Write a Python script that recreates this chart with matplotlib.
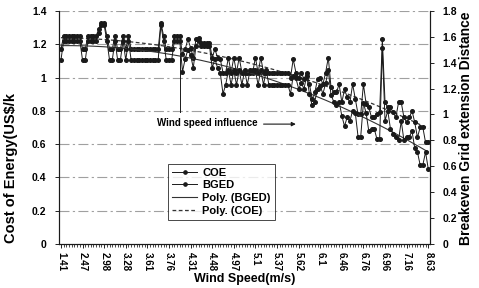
import numpy as np
import matplotlib
matplotlib.use("Agg")
import matplotlib.pyplot as plt

plt.rcParams['font.family'] = ['Liberation Sans', 'DejaVu Sans']
plt.rcParams['font.weight'] = 'bold'

# wind speed labels shown on the category axis (one every 8 points)
speed_labels = ['1.41', '2.47', '2.98', '3.28', '3.61', '3.76', '4.31', '4.48', '4.97',
                '5.1', '5.37', '5.62', '6.1', '6.46', '6.76', '6.96', '7.16', '8.63']
label_step = 8

# cost of energy (left axis)
coe = [1.17,
       1.25, 1.25, 1.25, 1.25, 1.25, 1.25, 1.25,
       1.17, 1.17,
       1.25, 1.25, 1.25, 1.25,
       1.29, 1.33, 1.33, 1.25,
       1.17, 1.17, 1.25, 1.17, 1.17, 1.25, 1.17, 1.25,
       1.17, 1.17, 1.17, 1.17, 1.17, 1.17, 1.17, 1.17, 1.17, 1.17, 1.17,
       1.33, 1.25, 1.17, 1.17, 1.17,
       1.25, 1.25, 1.25,
       1.14, 1.17, 1.23, 1.18, 1.12, 1.23, 1.24,
       1.21, 1.21, 1.21, 1.21,
       1.12, 1.17, 1.12, 1.11, 1.03, 1.03, 1.12, 1.03, 1.12, 1.03, 1.12,
       1.03, 1.03, 1.03, 1.03, 1.03, 1.12, 1.03, 1.12, 1.03, 1.03,
       1.03, 1.03, 1.03, 1.03, 1.03, 1.03, 1.03, 1.03,
       1.00, 1.11, 1.03, 1.00, 1.03, 0.99, 1.03, 0.96, 0.87, 0.91,
       0.99, 1.00, 0.96, 1.03, 1.12,
       0.94, 0.91, 0.91, 0.96, 0.85, 0.93, 0.88, 0.85, 0.96, 0.87,
       0.78, 0.78, 0.96, 0.84, 0.82, 0.76, 0.76, 0.78, 0.79,
       1.23,
       0.85, 0.82, 0.82, 0.79, 0.76, 0.85, 0.85, 0.76, 0.73, 0.76,
       0.80, 0.73, 0.64, 0.70, 0.70, 0.61, 0.61]

# breakeven grid extension distance (right axis)
bged = [1.42,
        1.57, 1.57, 1.57, 1.57, 1.57, 1.57, 1.57,
        1.42, 1.42,
        1.57, 1.57, 1.57, 1.57,
        1.63, 1.69, 1.69, 1.57,
        1.42, 1.42, 1.57, 1.42, 1.42, 1.57, 1.42, 1.57,
        1.42, 1.42, 1.42, 1.42, 1.42, 1.42, 1.42, 1.42, 1.42, 1.42, 1.42,
        1.69, 1.57, 1.42, 1.42, 1.42,
        1.57, 1.57, 1.57,
        1.33, 1.43, 1.50, 1.46, 1.36, 1.53, 1.57,
        1.53, 1.53, 1.53, 1.53,
        1.36, 1.43, 1.36, 1.32, 1.16, 1.23, 1.34, 1.23, 1.34, 1.23, 1.34,
        1.23, 1.34, 1.23, 1.34, 1.34, 1.34, 1.23, 1.34, 1.23, 1.34,
        1.23, 1.23, 1.23, 1.23, 1.23, 1.23, 1.23, 1.23,
        1.16, 1.30, 1.28, 1.20, 1.24, 1.20, 1.30, 1.16, 1.07, 1.10,
        1.20, 1.22, 1.16, 1.24, 1.34,
        1.15, 1.10, 1.07, 1.10, 0.99, 0.91, 0.98, 0.95, 1.03, 1.01,
        0.83, 0.83, 1.09, 1.01, 0.87, 0.89, 0.89, 0.81, 0.81,
        1.51,
        0.95, 1.03, 0.89, 0.85, 0.83, 0.80, 0.95, 0.80, 0.83, 0.83,
        0.87, 0.74, 0.71, 0.61, 0.61, 0.71, 0.58]

left_ticks = [0, 0.2, 0.4, 0.6, 0.8, 1.0, 1.2, 1.4]
left_labels = ['0', '0.2', '0.4', '0.6', '0.8', '1', '1.2', '1.4']
right_ticks = [0, 0.2, 0.4, 0.6, 0.8, 1.0, 1.2, 1.4, 1.6, 1.8]
right_labels = ['0', '0.2', '0.4', '0.6', '0.8', '1', '1.2', '1.4', '1.6', '1.8']

n = len(coe)
idx = np.arange(n)
ink = '#1a1a1a'

fig = plt.figure(figsize=(4.79, 2.88), dpi=100)
ax = fig.add_axes([0.123, 0.153, 0.775, 0.809])
ax2 = ax.twinx()

# gridlines from the left axis
for t in left_ticks[1:]:
    ax.axhline(t, color='#a0a0a0', lw=0.8, ls=(0, (9, 3, 2, 3)), zorder=0)

l1, = ax.plot(idx, coe, '-o', color=ink, lw=0.7, ms=2.6, label='COE', zorder=3)
l2, = ax2.plot(idx, bged, '-o', color=ink, lw=0.7, ms=2.6, label='BGED', zorder=3)

# order-2 polynomial trendlines
p_coe = np.polyval(np.polyfit(idx, coe, 2), idx)
p_bged = np.polyval(np.polyfit(idx, bged, 2), idx)
l3, = ax2.plot(idx, p_bged, '-', color='#333333', lw=0.8, label='Poly. (BGED)')
l4, = ax.plot(idx, p_coe, '--', color='#333333', lw=0.9, dashes=(3, 2), label='Poly. (COE)')

ax.set_xlim(-0.75, n - 0.3)
ax.set_ylim(0, 1.4)
ax2.set_ylim(0, 1.8)

ax.set_xticks(idx[::label_step])
ax.set_xticklabels(speed_labels, rotation=-90, fontsize=7, fontweight='bold')
ax.set_xticks(idx, minor=True)
ax.tick_params(axis='x', which='major', length=3, width=0.6, pad=3)
ax.tick_params(axis='x', which='minor', length=2, width=0.5)

ax.set_yticks(left_ticks)
ax.set_yticklabels(left_labels, fontsize=7.5, fontweight='bold')
ax2.set_yticks(right_ticks)
ax2.set_yticklabels(right_labels, fontsize=7.5, fontweight='bold')
ax.tick_params(axis='y', length=3, width=0.6, pad=6)
ax2.tick_params(axis='y', length=3, width=0.6, pad=6)

for a in (ax, ax2):
    a.spines['top'].set_visible(False)
    for s in ('left', 'right', 'bottom'):
        a.spines[s].set_linewidth(0.8)
        a.spines[s].set_color(ink)

ax.set_xlabel('Wind Speed(m/s)', fontsize=9, fontweight='bold', labelpad=1)
fig.text(0.022, 0.156, 'Cost of Energy(US$/k', rotation=90, ha='center', va='bottom',
         fontsize=10.5, fontweight='bold')
fig.text(0.972, 0.15, 'Breakeven Grid extension Distance', rotation=90, ha='center',
         va='bottom', fontsize=10, fontweight='bold')

# annotation
ax.plot([44, 44], [1.13, 0.79], color=ink, lw=0.7)
ax.text(35.5, 0.727, 'Wind speed influence', fontsize=7, fontweight='bold',
        ha='left', va='center')
ax.annotate('', xy=(88, 0.72), xytext=(74, 0.72),
            arrowprops=dict(arrowstyle='-|>', color=ink, lw=0.8, mutation_scale=6))

leg = ax.legend(handles=[l1, l2, l3, l4], loc='lower left', bbox_to_anchor=(0.28, 0.08),
                fontsize=8, frameon=True, fancybox=False, borderpad=0.35,
                handlelength=2.2, labelspacing=0.25, handletextpad=0.5,
                markerscale=0.9)
leg.get_frame().set_edgecolor(ink)
leg.get_frame().set_linewidth(0.7)
for t in leg.get_texts():
    t.set_fontweight('bold')

fig.savefig('out.png', dpi=100)
